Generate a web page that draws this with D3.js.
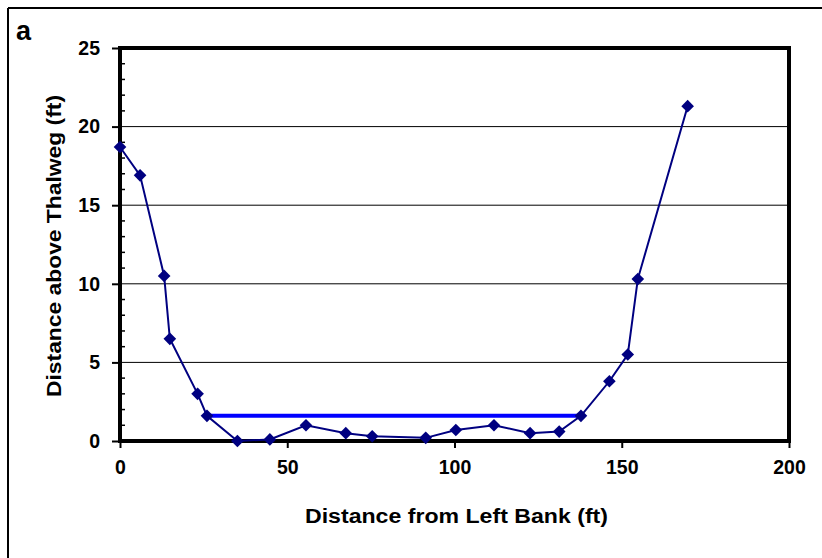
<!DOCTYPE html>
<html><head><meta charset="utf-8">
<script src="https://cdn.jsdelivr.net/npm/d3@7"></script>
<style>
html,body{margin:0;padding:0;background:#fff;}
svg{display:block;}
text{font-family:"Liberation Sans",Arial,sans-serif;font-weight:bold;fill:#000;}
</style></head>
<body>
<script>
const distX = [0, 6.0, 13.2, 14.9, 23.2, 26.0, 35.1, 44.8, 55.6, 67.5, 75.4, 91.4, 100.4, 111.8, 122.6, 131.3, 137.8, 146.3, 151.8, 154.8, 169.7];
const heightY = [18.7, 16.9, 10.5, 6.5, 3.0, 1.6, 0.0, 0.1, 1.0, 0.5, 0.3, 0.2, 0.7, 1.0, 0.5, 0.6, 1.6, 3.8, 5.5, 10.3, 21.3];
const waterX = [26.0, 137.8];
const waterY = [1.6, 1.6];
const xTicks = [0, 50, 100, 150, 200];
const yTicks = [0, 5, 10, 15, 20, 25];
const yMinor = d3.range(0, 26, 1);
const panelLabel = "a";
const xTitle = "Distance from Left Bank (ft)";
const yTitle = "Distance above Thalweg (ft)";

const W = 822, H = 558;
const L = 120, T = 48, R = 789, B = 441;
const svg = d3.select("body").append("svg").attr("width", W).attr("height", H);

// outer frame (only top and left visible)
svg.append("line").attr("x1", 8).attr("x2", W).attr("y1", 8).attr("y2", 8).attr("stroke", "#000").attr("stroke-width", 2);
svg.append("line").attr("x1", 8).attr("x2", 8).attr("y1", 8).attr("y2", H).attr("stroke", "#000").attr("stroke-width", 2);

const x = d3.scaleLinear().domain([0, 200]).range([L, R]);
const y = d3.scaleLinear().domain([0, 25]).range([B, T]);

// gridlines
svg.append("g").selectAll("line").data(yTicks.filter(d => d > 0 && d < 25)).join("line")
  .attr("x1", L).attr("x2", R).attr("y1", d => y(d)).attr("y2", d => y(d))
  .attr("stroke", "#000").attr("stroke-width", 1);

// minor ticks (inside)
svg.append("g").selectAll("line").data(yMinor.filter(d => d % 5 !== 0)).join("line")
  .attr("x1", L).attr("x2", L + 5).attr("y1", d => y(d)).attr("y2", d => y(d))
  .attr("stroke", "#000").attr("stroke-width", 1.5);

// y axis
const yAxis = svg.append("g").attr("transform", `translate(${L},0)`)
  .call(d3.axisLeft(y).tickValues(yTicks).tickSize(8).tickPadding(12).tickFormat(d3.format("d")));
yAxis.select(".domain").remove();
yAxis.selectAll(".tick line").attr("stroke", "#000").attr("stroke-width", 2);
yAxis.selectAll(".tick text").attr("font-size", 19.5).attr("font-family", '"Liberation Sans",Arial,sans-serif').attr("font-weight", "bold").attr("fill", "#000");

// x axis
const xAxis = svg.append("g").attr("transform", `translate(0,${B})`)
  .call(d3.axisBottom(x).tickValues(xTicks).tickSize(7).tickPadding(12).tickFormat(d3.format("d")));
xAxis.select(".domain").remove();
xAxis.selectAll(".tick line").attr("stroke", "#000").attr("stroke-width", 2);
xAxis.selectAll(".tick text").attr("font-size", 19.5).attr("font-family", '"Liberation Sans",Arial,sans-serif').attr("font-weight", "bold").attr("fill", "#000");

// plot frame
svg.append("rect").attr("x", L).attr("y", T).attr("width", R - L).attr("height", B - T)
  .attr("fill", "none").attr("stroke", "#000").attr("stroke-width", 4);

// water line
svg.append("path").datum(waterX.map((d, i) => [d, waterY[i]]))
  .attr("d", d3.line().x(d => x(d[0])).y(d => y(d[1])))
  .attr("fill", "none").attr("stroke", "#0000FF").attr("stroke-width", 4);

// profile
const pts = distX.map((d, i) => [d, heightY[i]]);
svg.append("path").datum(pts)
  .attr("d", d3.line().x(d => x(d[0])).y(d => y(d[1])))
  .attr("fill", "none").attr("stroke", "#000080").attr("stroke-width", 2);
const sym = d3.symbol().type(d3.symbolSquare).size(80);
svg.append("g").selectAll("path").data(pts).join("path")
  .attr("d", sym)
  .attr("transform", d => `translate(${x(d[0])},${y(d[1])}) rotate(45)`)
  .attr("fill", "#000080");

// titles
svg.append("text").attr("x", 456.5).attr("y", 523).attr("text-anchor", "middle")
  .attr("font-size", 19.5).attr("textLength", 303).attr("lengthAdjust", "spacingAndGlyphs").text(xTitle);
svg.append("text").attr("transform", "translate(61,246) rotate(-90)").attr("text-anchor", "middle")
  .attr("font-size", 19.5).attr("textLength", 302).attr("lengthAdjust", "spacingAndGlyphs").text(yTitle);
svg.append("text").attr("x", 16).attr("y", 40).attr("font-size", 27).text(panelLabel);
</script>
</body></html>
